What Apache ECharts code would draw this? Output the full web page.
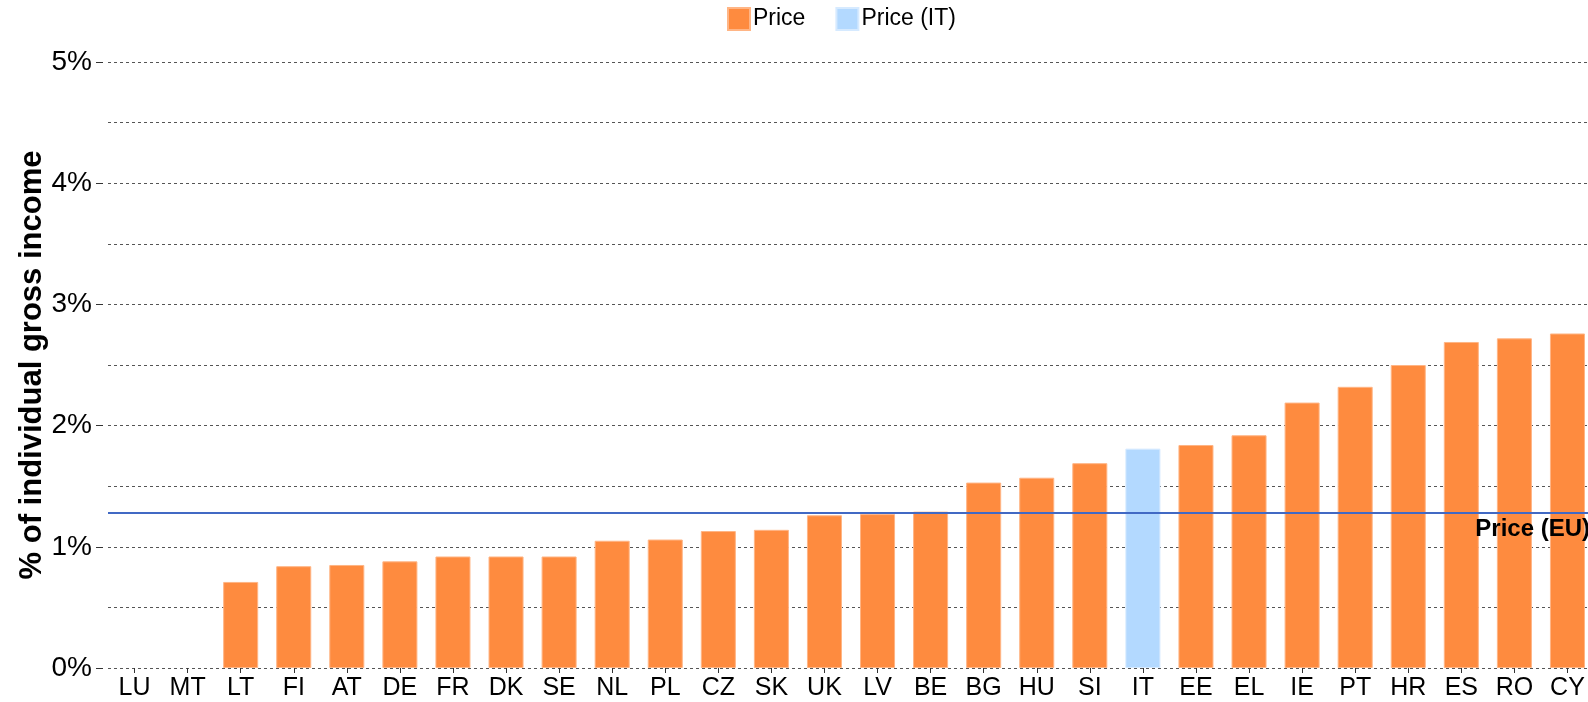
<!DOCTYPE html>
<html>
<head>
<meta charset="utf-8">
<style>
  html, body { margin: 0; padding: 0; background: #fff; overflow: hidden; }
  #chart { width: 1594px; height: 702px; }
</style>
<script src="https://cdn.jsdelivr.net/npm/echarts@6/dist/echarts.min.js"></script>
</head>
<body>
<div id="chart"></div>
<script>
// countries, sorted by price share
const countries = ['LU', 'MT', 'LT', 'FI', 'AT', 'DE', 'FR', 'DK', 'SE', 'NL', 'PL', 'CZ', 'SK', 'UK',
  'LV', 'BE', 'BG', 'HU', 'SI', 'IT', 'EE', 'EL', 'IE', 'PT', 'HR', 'ES', 'RO', 'CY']

// % of individual gross income (null = no bar)
const price = [null, null, 0.71, 0.84, 0.85, 0.88, 0.92, 0.92, 0.92, 1.05, 1.06, 1.13, 1.14, 1.26,
  1.27, 1.29, 1.53, 1.57, 1.69, null, 1.84, 1.92, 2.19, 2.32, 2.50, 2.69, 2.72, 2.76]
const priceIT = [null, null, null, null, null, null, null, null, null, null, null, null, null, null,
  null, null, null, null, null, 1.81, null, null, null, null, null, null, null, null]
const priceEU = 1.28

const yTicks = [0, 1, 2, 3, 4, 5]

const FONT = '"Liberation Sans", Arial, sans-serif'

// the chart is a bit wider than the window, so the last bar gets cut like in the original
const chart = echarts.init(document.getElementById('chart'))
chart.setOption({
  animation: false,
  textStyle: { fontFamily: FONT },
  legend: {
    left: 722,
    top: 2,
    itemWidth: 22,
    itemHeight: 22,
    itemGap: 30,
    icon: 'rect',
    textStyle: { fontSize: 23, color: '#000', padding: [0, 0, 0, -2] },
    data: ['Price', 'Price (IT)']
  },
  grid: {
    left: 108,
    right: 0,
    top: 62,
    bottom: 34
  },
  xAxis: {
    type: 'category',
    data: countries,
    axisLine: { show: false },
    axisTick: { show: true, alignWithLabel: true, length: 5, lineStyle: { color: '#333' } },
    axisLabel: { fontSize: 25, color: '#000', margin: 8 }
  },
  yAxis: {
    type: 'value',
    min: yTicks[0],
    max: yTicks[yTicks.length - 1],
    interval: 1,
    offset: 5,
    name: '% of individual gross income',
    nameLocation: 'middle',
    nameGap: 55,
    nameMoveOverlap: false,
    nameTextStyle: { fontSize: 31, fontWeight: 'bold', color: '#000' },
    axisLine: { show: false },
    axisTick: { show: true, length: 7, lineStyle: { color: '#333' } },
    axisLabel: { fontSize: 28, color: '#000', margin: 11, formatter: v => v + '%' },
    splitLine: { show: true, lineStyle: { type: [3, 3], color: '#555', width: 1 } },
    minorTick: { show: false, splitNumber: 2 },
    minorSplitLine: { show: true, lineStyle: { type: [3, 3], color: '#555', width: 1 } }
  },
  series: [
    {
      name: 'Price',
      type: 'bar',
      stack: 'p',
      barWidth: '66%',
      data: price,
      itemStyle: { color: '#FE8B3F', borderColor: '#FFB585', borderWidth: 1 },
      markLine: {
        silent: true,
        symbol: 'none',
        lineStyle: { color: '#4169C4', width: 2, type: 'solid' },
        label: {
          show: true,
          position: 'insideEndBottom',
          formatter: 'Price (EU)',
          fontSize: 24,
          fontWeight: 'bold',
          color: '#000',
          distance: [4, 5]
        },
        data: [{ yAxis: priceEU }]
      }
    },
    {
      name: 'Price (IT)',
      type: 'bar',
      stack: 'p',
      barWidth: '66%',
      data: priceIT,
      itemStyle: { color: '#B3D9FF', borderColor: '#D6EAFF', borderWidth: 1 }
    }
  ]
})
</script>
</body>
</html>
